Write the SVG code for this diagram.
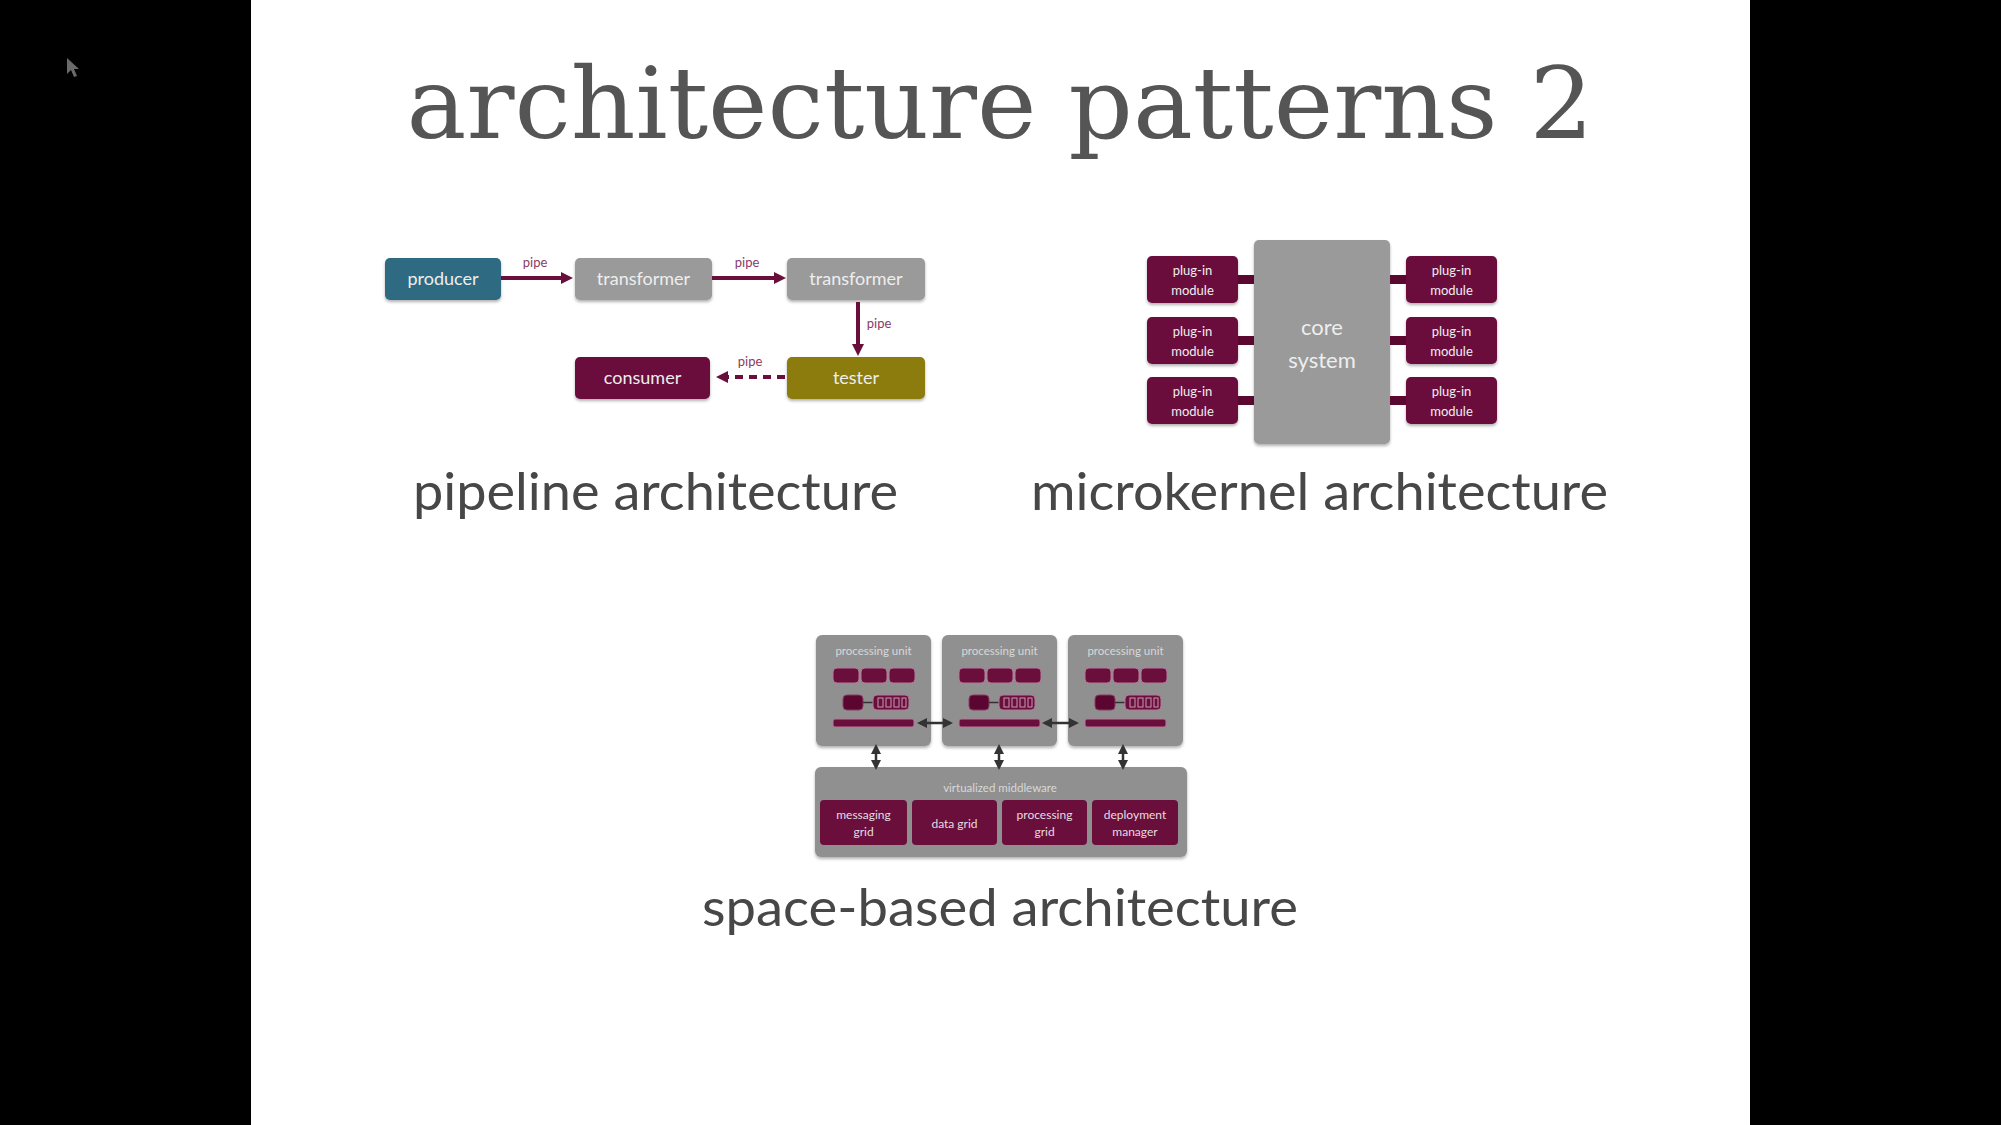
<svg xmlns="http://www.w3.org/2000/svg" width="2001" height="1125" viewBox="0 0 2001 1125">
<style>
.lbl{font-family:Lato,"Open Sans","Noto Sans",sans-serif;fill:#eeeeee;text-anchor:middle}
.pipe{font-family:Lato,"Open Sans",sans-serif;font-size:13px;fill:#8a3a66;text-anchor:middle}
.cap{font-family:Lato,"Open Sans","Noto Sans",sans-serif;font-size:52px;fill:#474747;text-anchor:middle}
.teal{fill:#2e6b81}
.gray{fill:#9a9a9a}
.mar{fill:#6a0f3c}
.olive{fill:#8b7b10}
.pu{fill:#909090}
.m{fill:#6a0f3c;stroke:#b5789a;stroke-width:1}
.md{fill:#5a0630;stroke:#8a3a62;stroke-width:1}
.slot{fill:none;stroke:#c79ab2;stroke-width:1}
.small{font-family:Lato,"Open Sans",sans-serif;font-size:12px;fill:#e6dbe1;text-anchor:middle}
.put{font-family:Lato,"Open Sans",sans-serif;font-size:11.5px;fill:#d8d8d8;text-anchor:middle}
.pconn{stroke:#6a0f3c;stroke-width:4;fill:none}
.dconn{stroke:#333333;stroke-width:2.5;fill:none}
</style>
<defs>
<filter id="sh" x="-10%" y="-10%" width="120%" height="130%">
<feDropShadow dx="0" dy="2" stdDeviation="1.5" flood-color="#000" flood-opacity="0.3"/>
</filter>
<marker id="ah" viewBox="0 0 12 12" refX="5" refY="6" markerWidth="12" markerHeight="12" markerUnits="userSpaceOnUse" orient="auto">
<path d="M0,0 L12,6 L0,12 z" fill="#6a0f3c"/>
</marker>
<marker id="dh" viewBox="0 0 10 10" refX="7" refY="5" markerWidth="10" markerHeight="10" markerUnits="userSpaceOnUse" orient="auto-start-reverse">
<path d="M0,0 L10,5 L0,10 z" fill="#333333"/>
</marker>
</defs>
<rect x="0" y="0" width="2001" height="1125" fill="#000000"/>
<rect x="251" y="0" width="1499" height="1125" fill="#ffffff"/>
<polygon points="67,58 67,74 71,70 74,77 77,76 74,69 79,69" fill="#6a6a6a"/>
<text x="1000" y="138" font-family="'DejaVu Serif','Liberation Serif',serif" font-size="100" fill="#555555" text-anchor="middle" textLength="1187" lengthAdjust="spacingAndGlyphs">architecture patterns 2</text>

<g id="pipe-labels">
<text class="pipe" x="535" y="267">pipe</text>
<text class="pipe" x="747" y="267">pipe</text>
<text class="pipe" x="879" y="328">pipe</text>
<text class="pipe" x="750" y="366">pipe</text>
</g>

<g id="producer"><rect class="teal" x="385" y="258" width="116" height="42" rx="5" filter="url(#sh)"/><text class="lbl" x="443" y="285" font-size="18">producer</text></g>
<g id="transformer1"><rect class="gray" x="575" y="258" width="137" height="42" rx="5" filter="url(#sh)"/><text class="lbl" x="643.5" y="285" font-size="18">transformer</text></g>
<g id="transformer2"><rect class="gray" x="787" y="258" width="138" height="42" rx="5" filter="url(#sh)"/><text class="lbl" x="856" y="285" font-size="18">transformer</text></g>
<g id="consumer"><rect class="mar" x="575" y="357" width="135" height="42" rx="5" filter="url(#sh)"/><text class="lbl" x="642.5" y="384" font-size="18">consumer</text></g>
<g id="tester"><rect class="olive" x="787" y="357" width="138" height="42" rx="5" filter="url(#sh)"/><text class="lbl" x="856" y="384" font-size="18">tester</text></g>

<g id="core-system"><rect class="gray" x="1254" y="240" width="136" height="204" rx="5" filter="url(#sh)"/><text class="lbl" x="1322" y="335" font-size="22">core</text><text class="lbl" x="1322" y="368" font-size="22">system</text></g>
<g id="plugin-l1"><rect class="mar" x="1147" y="256" width="91" height="47" rx="5" filter="url(#sh)"/><text class="lbl" x="1192.5" y="275" font-size="13">plug-in</text><text class="lbl" x="1192.5" y="295" font-size="13">module</text></g>
<g id="plugin-l2"><rect class="mar" x="1147" y="317" width="91" height="47" rx="5" filter="url(#sh)"/><text class="lbl" x="1192.5" y="336" font-size="13">plug-in</text><text class="lbl" x="1192.5" y="356" font-size="13">module</text></g>
<g id="plugin-l3"><rect class="mar" x="1147" y="377" width="91" height="47" rx="5" filter="url(#sh)"/><text class="lbl" x="1192.5" y="396" font-size="13">plug-in</text><text class="lbl" x="1192.5" y="416" font-size="13">module</text></g>
<g id="plugin-r1"><rect class="mar" x="1406" y="256" width="91" height="47" rx="5" filter="url(#sh)"/><text class="lbl" x="1451.5" y="275" font-size="13">plug-in</text><text class="lbl" x="1451.5" y="295" font-size="13">module</text></g>
<g id="plugin-r2"><rect class="mar" x="1406" y="317" width="91" height="47" rx="5" filter="url(#sh)"/><text class="lbl" x="1451.5" y="336" font-size="13">plug-in</text><text class="lbl" x="1451.5" y="356" font-size="13">module</text></g>
<g id="plugin-r3"><rect class="mar" x="1406" y="377" width="91" height="47" rx="5" filter="url(#sh)"/><text class="lbl" x="1451.5" y="396" font-size="13">plug-in</text><text class="lbl" x="1451.5" y="416" font-size="13">module</text></g>

<g id="pu1" transform="translate(816,635)">
<rect class="pu" x="0" y="0" width="115" height="111" rx="6" filter="url(#sh)"/>
<text class="put" x="57.5" y="20">processing unit</text>
<rect class="m" x="17" y="33" width="26" height="15" rx="4"/><rect class="m" x="45" y="33" width="26" height="15" rx="4"/><rect class="m" x="73" y="33" width="26" height="15" rx="4"/>
<rect class="md" x="27" y="60" width="20" height="15" rx="4"/><line x1="47" y1="67.5" x2="57" y2="67.5" stroke="#333" stroke-width="1.5"/>
<rect class="m" x="57" y="60" width="36" height="15" rx="4"/>
<rect class="slot" x="62" y="63" width="5" height="9"/><rect class="slot" x="70" y="63" width="5" height="9"/><rect class="slot" x="78" y="63" width="5" height="9"/><rect class="slot" x="86" y="63" width="4" height="9"/>
<rect class="m" x="17" y="84" width="81" height="8" rx="2"/>
</g>
<g id="pu2" transform="translate(942,635)">
<rect class="pu" x="0" y="0" width="115" height="111" rx="6" filter="url(#sh)"/>
<text class="put" x="57.5" y="20">processing unit</text>
<rect class="m" x="17" y="33" width="26" height="15" rx="4"/><rect class="m" x="45" y="33" width="26" height="15" rx="4"/><rect class="m" x="73" y="33" width="26" height="15" rx="4"/>
<rect class="md" x="27" y="60" width="20" height="15" rx="4"/><line x1="47" y1="67.5" x2="57" y2="67.5" stroke="#333" stroke-width="1.5"/>
<rect class="m" x="57" y="60" width="36" height="15" rx="4"/>
<rect class="slot" x="62" y="63" width="5" height="9"/><rect class="slot" x="70" y="63" width="5" height="9"/><rect class="slot" x="78" y="63" width="5" height="9"/><rect class="slot" x="86" y="63" width="4" height="9"/>
<rect class="m" x="17" y="84" width="81" height="8" rx="2"/>
</g>
<g id="pu3" transform="translate(1068,635)">
<rect class="pu" x="0" y="0" width="115" height="111" rx="6" filter="url(#sh)"/>
<text class="put" x="57.5" y="20">processing unit</text>
<rect class="m" x="17" y="33" width="26" height="15" rx="4"/><rect class="m" x="45" y="33" width="26" height="15" rx="4"/><rect class="m" x="73" y="33" width="26" height="15" rx="4"/>
<rect class="md" x="27" y="60" width="20" height="15" rx="4"/><line x1="47" y1="67.5" x2="57" y2="67.5" stroke="#333" stroke-width="1.5"/>
<rect class="m" x="57" y="60" width="36" height="15" rx="4"/>
<rect class="slot" x="62" y="63" width="5" height="9"/><rect class="slot" x="70" y="63" width="5" height="9"/><rect class="slot" x="78" y="63" width="5" height="9"/><rect class="slot" x="86" y="63" width="4" height="9"/>
<rect class="m" x="17" y="84" width="81" height="8" rx="2"/>
</g>

<g id="middleware">
<rect class="pu" x="815" y="767" width="372" height="90" rx="6" filter="url(#sh)"/>
<text class="put" x="1000" y="792">virtualized middleware</text>
<g id="messaging-grid"><rect class="mar" x="820" y="800" width="87" height="45" rx="4"/><text class="small" x="863.5" y="819">messaging</text><text class="small" x="863.5" y="836">grid</text></g>
<g id="data-grid"><rect class="mar" x="912" y="800" width="85" height="45" rx="4"/><text class="small" x="954.5" y="828">data grid</text></g>
<g id="processing-grid"><rect class="mar" x="1002" y="800" width="85" height="45" rx="4"/><text class="small" x="1044.5" y="819">processing</text><text class="small" x="1044.5" y="836">grid</text></g>
<g id="deployment-manager"><rect class="mar" x="1092" y="800" width="86" height="45" rx="4"/><text class="small" x="1135" y="819">deployment</text><text class="small" x="1135" y="836">manager</text></g>
</g>

<g id="connectors">
<line class="pconn" x1="501" y1="278" x2="566" y2="278" marker-end="url(#ah)"/>
<line class="pconn" x1="712" y1="278" x2="779" y2="278" marker-end="url(#ah)"/>
<line class="pconn" x1="858" y1="302" x2="858" y2="349" marker-end="url(#ah)"/>
<line class="pconn" x1="785" y1="377" x2="723" y2="377" stroke-dasharray="8 6" marker-end="url(#ah)"/>
<rect x="1238" y="275" width="16" height="9" fill="#5a0830"/>
<rect x="1238" y="336" width="16" height="9" fill="#5a0830"/>
<rect x="1238" y="396" width="16" height="9" fill="#5a0830"/>
<rect x="1390" y="275" width="16" height="9" fill="#5a0830"/>
<rect x="1390" y="336" width="16" height="9" fill="#5a0830"/>
<rect x="1390" y="396" width="16" height="9" fill="#5a0830"/>
<line class="dconn" x1="920" y1="723" x2="950" y2="723" marker-start="url(#dh)" marker-end="url(#dh)"/>
<line class="dconn" x1="1045" y1="723" x2="1076" y2="723" marker-start="url(#dh)" marker-end="url(#dh)"/>
<line class="dconn" x1="876" y1="747" x2="876" y2="767" marker-start="url(#dh)" marker-end="url(#dh)"/>
<line class="dconn" x1="999" y1="747" x2="999" y2="767" marker-start="url(#dh)" marker-end="url(#dh)"/>
<line class="dconn" x1="1123" y1="747" x2="1123" y2="767" marker-start="url(#dh)" marker-end="url(#dh)"/>
</g>

<g id="captions">
<text class="cap" x="655.5" y="510" textLength="485" lengthAdjust="spacingAndGlyphs">pipeline architecture</text>
<text class="cap" x="1319.5" y="510" textLength="577" lengthAdjust="spacingAndGlyphs">microkernel architecture</text>
<text class="cap" x="1000" y="926" textLength="596" lengthAdjust="spacingAndGlyphs">space-based architecture</text>
</g>
</svg>
